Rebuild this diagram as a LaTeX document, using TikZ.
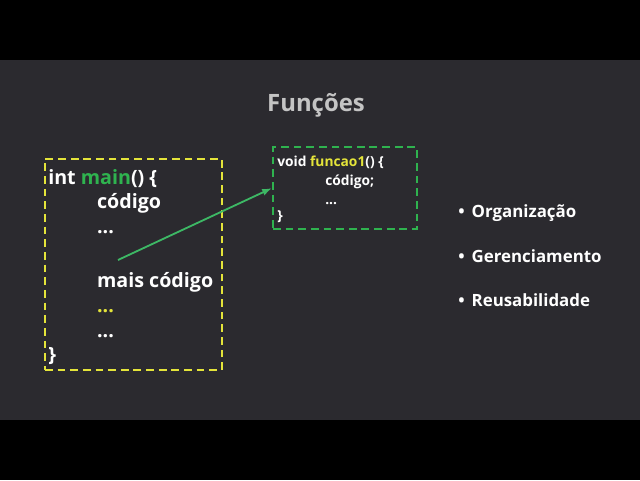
\documentclass[tikz,border=0pt]{standalone}
\usepackage{fontspec}
\setmainfont{Open Sans}
\usepackage{tikz}
\usetikzlibrary{arrows.meta, positioning}
\definecolor{bgslide}{HTML}{2B2A2F}
\definecolor{titlegray}{HTML}{C4C4C4}
\definecolor{codeyellow}{HTML}{E4E43A}
\definecolor{codegreen}{HTML}{2FB34F}
\definecolor{arrowgreen}{HTML}{3DB865}

\begin{document}
\begin{tikzpicture}[
    frame/.style={draw, dash pattern=on 5.5pt off 3.5pt, line width=1.3pt, minimum width=4.425cm, minimum height=5.275cm, anchor=south west},
    code/.style={anchor=base west, text=white, font=\fontsize{14}{16}\selectfont\bfseries, inner sep=0pt},
    small/.style={anchor=base west, text=white, font=\fontsize{9.8}{12}\selectfont\bfseries, inner sep=0pt},
    item/.style={anchor=base west, text=white, font=\fontsize{12}{14}\selectfont\bfseries, inner sep=0pt},
    link/.style={draw=arrowgreen, line width=1.3pt, -{Latex[length=7pt, width=5pt]}}
]
    % slide background and black bars
    \fill[black] (0,0) rectangle (16,12);
    \fill[bgslide] (0,1.5) rectangle (16,10.5);

    \node[anchor=base, text=titlegray, font=\fontsize{17}{20}\selectfont\bfseries] (title) at (7.9,9.2) {Funções};

    % main
    \node[frame, draw=codeyellow] (mainbox) at (1.1,2.725) {};
    \node[code] (m1) at (1.2,7.4) {int \textcolor{codegreen}{main}() \{};
    \node[code] (m2) at (2.42,6.8) {código};
    \node[code] (m3) at (2.42,6.175) {...};
    \node[code] (m4) at (2.42,4.825) {mais código};
    \node[code] (m5) at (2.42,4.2) {\textcolor{codeyellow}{...}};
    \node[code] (m6) at (2.42,3.575) {...};
    \node[code] (m7) at (1.2,2.975) {\}};

    % funcao1
    \node[frame, draw=codegreen, minimum width=3.6cm, minimum height=2.05cm] (fbox) at (6.8,6.25) {};
    \node[small] (f1) at (6.925,7.85) {void \textcolor{codeyellow}{funcao1}() \{};
    \node[small] (f2) at (8.125,7.375) {código;};
    \node[small] (f3) at (8.125,6.9) {...};
    \node[small] (f4) at (6.925,6.5) {\}};

    \coordinate (call) at (2.95,5.5);
    \draw[link] (call) -- (fbox.west);

    % bullets
    \node[item] (b1) at (11.45,6.575) {\textbullet\hspace{5pt}Organização};
    \node[item] (b2) at (11.45,5.45) {\textbullet\hspace{5pt}Gerenciamento};
    \node[item] (b3) at (11.45,4.35) {\textbullet\hspace{5pt}Reusabilidade};
\end{tikzpicture}
\end{document}
